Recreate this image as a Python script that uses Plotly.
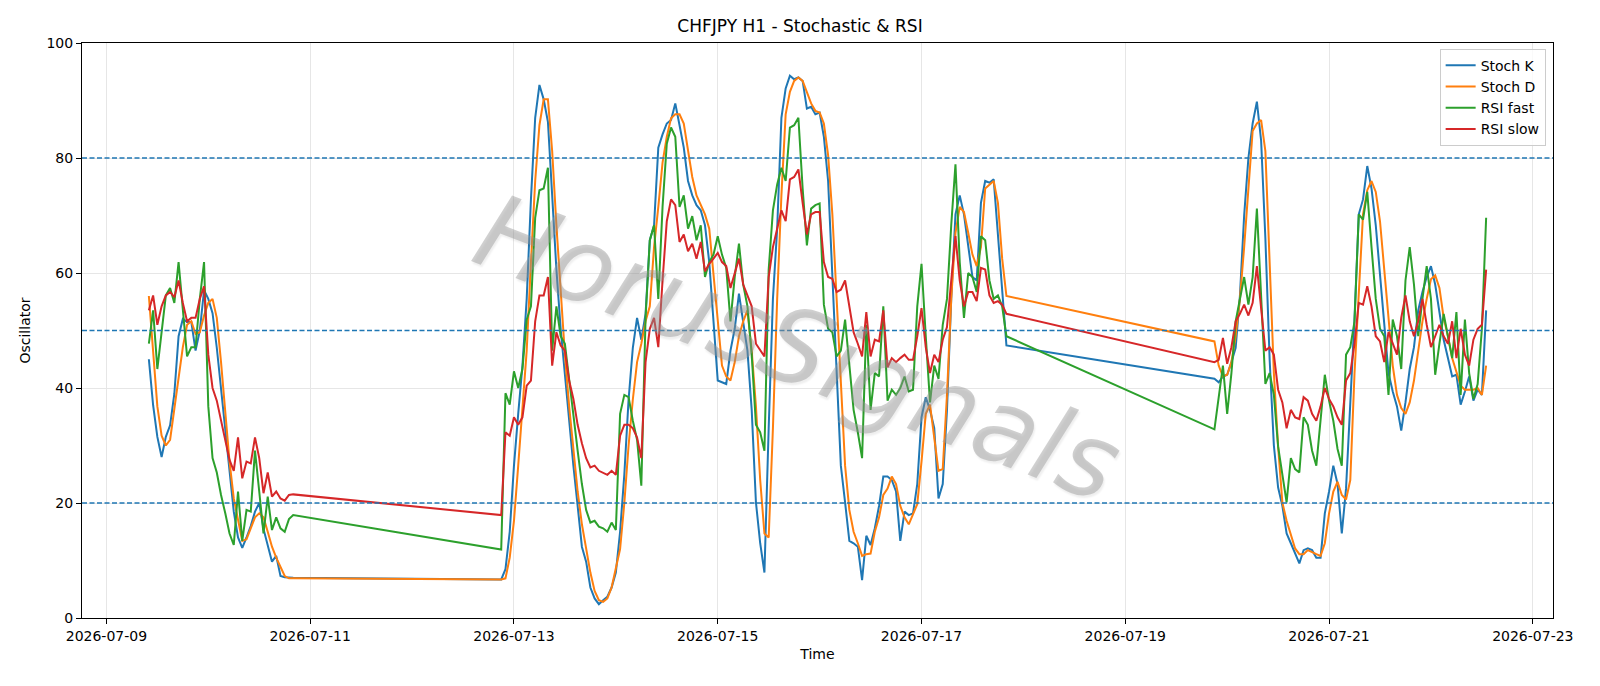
import pandas as pd
import plotly.graph_objects as go

# ---- time axis: three hourly trading segments (weekend gaps between) ----
seg_starts = ["2026-07-09 10:00", "2026-07-12 21:00", "2026-07-19 21:00"]
seg_counts = [35, 120, 65]

# ---- series values ----
stoch_k = [
    45, 37, 31.5, 28, 31.5, 33.5, 39, 49, 52, 51.5, 51.5, 46.5, 50, 57, 55.5, 53, 47, 40, 33, 26,
    18.5, 14, 12.2, 14, 16, 18.5, 20, 15.5, 12.5, 9.8, 10.8, 7.3, 7.1, 7.0, 7.0,
    6.7, 8.5, 15, 26.5, 35.5, 43.9, 55.5, 72.8, 87, 92.7, 90.2, 86.3, 73.5, 60.6, 50.3, 42, 34.3, 26.5, 19.5, 12.4,
    9.8, 5.3, 3.4, 2.4, 3.1, 3.7, 5.3, 7.9, 15, 25, 38, 47, 52.2, 48.4, 52.9, 65.7, 68.3, 81.8, 84.1, 86,
    86.6, 89.5, 85.7, 81.8, 76, 73.5, 71.8, 70.9, 68.3, 61.9, 51.6, 41.3, 41, 40.7, 46.5, 50.3, 56.4, 51.6, 46.5, 36.2,
    20.1, 13, 7.9, 33, 55.5, 67.7, 87, 92.1, 94.3, 93.7, 94, 93.4, 88.6, 88.9, 87.6, 87.9, 83.7, 76, 59.3, 42.6,
    26.5, 20.1, 13.4, 13, 12.4, 6.6, 14.3, 12.7, 15.6, 19.5, 24.6, 24.6, 24, 22, 13.4, 18.5, 17.9, 18.2, 23.3, 34.9,
    38.4, 36.2, 33, 20.8, 23.3, 36.2, 55.5, 70.2, 73.5, 70.2, 65.1, 59.3, 58.7, 72.2, 76, 75.7, 76.3, 67, 56.7, 47.4,
    41.6, 41, 42, 42.3, 44.5, 47, 56, 70, 80, 86, 89.8, 83, 66, 45, 30, 22.7, 19.5, 14.7, 13, 11.1,
    9.5, 11.8, 12.1, 11.8, 10.5, 10.5, 18.2, 22, 26.5, 23.3, 14.7, 22.5, 36.2, 52.2, 70.2, 72.8, 78.6, 74.7, 68.3, 59.3,
    50.3, 42.6, 39.4, 36.8, 32.6, 37.5, 43.3, 47.1, 53.5, 56.7, 59.3, 61.2, 58, 52.9, 48.4, 45.2, 42, 42.3, 37.1, 39.4,
    42, 37.8, 39.7, 38.8, 53.5,
]
stoch_d = [
    56, 45.8, 36.8, 31.7, 30, 31, 36.2, 41.3, 47.1, 51, 51.6, 49.4, 49.7, 52.6, 54.8, 55.5, 52.2, 44.5, 35.5, 27.2,
    20.8, 16.9, 13.4, 13.7, 15.6, 17.5, 18.2, 17.5, 15, 12.4, 10.5, 8.9, 7.3, 6.9, 6.9,
    6.7, 6.9, 10.5, 16.9, 26.5, 36.2, 46.5, 61.9, 76, 85.7, 90.2, 90.2, 81.2, 68.3, 56.1, 45.8, 36.8, 29.1, 22, 16.3,
    11.8, 7.9, 4.7, 3.1, 2.8, 3.4, 5.3, 8.5, 12, 20, 30, 38, 44.5, 47.7, 51.6, 54.2, 64.5, 71.5, 79.2, 83.7,
    86.9, 87.6, 87.6, 86, 81.2, 76.7, 73.5, 71.8, 70.2, 67.7, 60, 51.6, 43.9, 42, 41.3, 44.5, 49, 51.6, 53.5, 46.5,
    36.8, 24, 14.7, 14, 33, 55.5, 73.5, 87.6, 91.5, 93.4, 94, 93.4, 91.5, 89.5, 88.2, 87.9, 86, 80.5, 70.2, 55.5,
    39.4, 26.5, 18.8, 15, 13, 10.8, 11.1, 11.2, 15, 17.5, 21.4, 22.5, 24.6, 23.3, 19.5, 17.5, 16.3, 17.9, 19.8, 27.2,
    35.5, 37.1, 31.7, 25.6, 25.9, 38.8, 55.5, 67, 71.5, 70.6, 67, 63.2, 61.2, 64.5, 74.7, 75.4, 76, 72.2, 62.5, 56,
    48.1, 43.9, 42, 42.3, 44.5, 49, 55.5, 64.5, 74.7, 84.7, 86, 86.6, 81.2, 61.9, 42.6, 29.8, 20.1, 16.9, 14.3, 12.1,
    11.1, 11.1, 11.8, 11.4, 11.1, 10.8, 13, 18.2, 22, 23.7, 21.4, 20.6, 24, 42.6, 56.7, 70.2, 74.4, 76, 74.1, 69,
    60.6, 51.6, 43.9, 38.8, 36.5, 35.5, 37.5, 41.3, 46.5, 51.6, 55.5, 58.9, 59.6, 57.4, 52.2, 49, 45.2, 42.6, 40.4, 39.7,
    39.7, 39.7, 40, 38.8, 43.9,
]
rsi_fast = [
    47.7, 53.5, 43.3, 50.3, 56.1, 57.4, 54.8, 61.9, 52.9, 45.5, 47.1, 47.1, 55.5, 61.9, 36.8, 27.8, 25.3, 21.4, 18.2, 14.7,
    12.7, 22, 13.4, 18.8, 18.5, 29.1, 22, 14.7, 21.1, 15.3, 17.5, 15.6, 15, 17.2, 17.9,
    11.9, 39.1, 37.1, 42.9, 40, 43.3, 51.9, 54.2, 69.6, 74.4, 74.7, 78.3, 46.5, 54.2, 49, 47.7, 41.3, 35.5, 29.1, 23.3,
    18.8, 16.6, 16.9, 15.9, 15.6, 15, 16.6, 15.3, 35.5, 38.8, 38.4, 34.3, 31, 23, 52.2, 65.7, 68.3, 55.5, 71.5, 82.5,
    85.3, 83.7, 71.5, 73.5, 67.7, 69.9, 65.7, 68.3, 59.3, 61.9, 63.2, 66.4, 63.2, 60.9, 51.6, 59.3, 65.1, 58, 54.2, 45.8,
    33.6, 32.3, 29.1, 60.6, 70.9, 75.4, 78.3, 76, 85.3, 85.7, 87, 74.7, 64.8, 71.2, 71.8, 72.1, 54.5, 50.3, 49.7, 45.5,
    46.5, 51.9, 43.9, 36.2, 32.3, 27.8, 51, 36.2, 42.6, 42, 54.2, 37.8, 39.7, 38.8, 40, 42, 39.4, 39.7, 54.2, 61.6,
    49, 37.5, 43.9, 41.6, 51, 55.5, 68.3, 78.9, 61.9, 52.2, 60, 59.3, 56.7, 66.4, 65.7, 58.7, 55.5, 56.1, 54.2, 49,
    32.8, 38.8, 43.9, 35.5, 42.6, 51.6, 55.5, 59.3, 54.5, 59.3, 71.2, 55.5, 40.7, 42.6, 38.8, 29.8, 25.3, 20.1, 27.8, 25.9,
    25.3, 34.9, 33.6, 29.1, 26.5, 34.3, 42.3, 37.8, 34.3, 29.4, 26.5, 45.8, 47.1, 51.6, 70.2, 69.3, 74.1, 64.5, 55.5, 50.3,
    49, 38.8, 51.9, 49, 43.3, 58.7, 64.5, 58, 49, 55.5, 61.2, 55.5, 42.3, 47.7, 52.9, 49, 45.2, 53.2, 38.8, 51.9,
    42.6, 38.1, 40.7, 50.3, 69.6,
]
rsi_slow = [
    53.5, 56.1, 51, 54.2, 56.1, 56.7, 55.8, 58.7, 54.8, 51.6, 52.2, 52.2, 55.5, 57.7, 45.8, 40, 37.8, 34.3, 31, 27.5,
    25.6, 31.4, 24.3, 27.2, 26.9, 31.4, 27.8, 21.7, 25.3, 21.1, 22, 20.8, 20.4, 21.4, 21.5,
    17.9, 32.3, 31.7, 34.9, 33.6, 34.9, 40.4, 41.3, 51.6, 56.1, 56.1, 59.3, 43.9, 49.7, 47.4, 46.5, 41.3, 38.1, 33.6, 30.4,
    27.8, 26.2, 26.5, 25.6, 25.3, 24.9, 25.6, 24.9, 31.7, 33.6, 33.6, 33, 31.4, 27.8, 44.5, 50.3, 52.2, 47.1, 58.7, 69,
    72.8, 71.8, 65.4, 66.7, 63.8, 65.1, 62.5, 65.4, 60.3, 61.6, 62.5, 63.5, 61.9, 61.2, 57.4, 60, 62.5, 58, 56.1, 54.2,
    47.7, 46.5, 45.5, 59.3, 64.5, 67.7, 70.9, 69, 76.3, 76.7, 78, 72.2, 66.7, 70.2, 70.6, 70.6, 61.9, 59.3, 59, 56.7,
    57.1, 58.7, 54.2, 49.7, 47.7, 45.5, 53.2, 45.5, 48.4, 48.1, 53.5, 43.6, 45.2, 44.5, 45.2, 45.8, 44.9, 44.9, 49, 53.9,
    47.1, 42.6, 45.8, 44.5, 48.4, 50.6, 58.7, 66.4, 58.7, 54.2, 56.7, 56.7, 55.1, 60.9, 60.6, 56.1, 54.8, 55.1, 54.5, 52.9,
    44.5, 44.9, 48.7, 44.2, 47.1, 51.6, 52.9, 54.5, 52.6, 54.8, 61.2, 54.2, 46.5, 47.1, 45.8, 39.7, 37.5, 33, 36.2, 34.9,
    34.6, 38.4, 37.8, 35.5, 34.3, 36.8, 40, 38.1, 36.8, 34.9, 33.6, 41.3, 42.6, 47.7, 54.8, 54.5, 57.7, 54.2, 49, 48.1,
    44.5, 49.7, 47.7, 45.8, 52.2, 56.1, 51.6, 49, 51.6, 55.5, 51, 47.1, 49, 51, 49, 47.7, 51.6, 45.2, 50.3, 45.8,
    43.9, 48.4, 50.3, 51, 60.6,
]
levels = [80, 50, 20]
tick_dates = ["2026-07-09", "2026-07-11", "2026-07-13", "2026-07-15", "2026-07-17",
              "2026-07-19", "2026-07-21", "2026-07-23"]

times = []
for s, n in zip(seg_starts, seg_counts):
    times.extend(pd.date_range(s, periods=n, freq="h"))

series = [
    ("Stoch K", stoch_k, "#1f77b4"),
    ("Stoch D", stoch_d, "#ff7f0e"),
    ("RSI fast", rsi_fast, "#2ca02c"),
    ("RSI slow", rsi_slow, "#d62728"),
]

fig = go.Figure()
for name, vals, col in series:
    fig.add_trace(go.Scatter(x=times, y=vals, mode="lines", name=name,
                             line=dict(color=col, width=2)))

for lv in levels:
    fig.add_hline(y=lv, line=dict(color="#1f77b4", width=1.3, dash="5px,2.5px"))

font = "DejaVu Sans"
fig.add_annotation(
    text="HorusSignals", xref="paper", yref="paper", x=0.487, y=0.47,
    showarrow=False, textangle=21,
    font=dict(family="DejaVu Sans ExtraLight, DejaVu Sans", size=104,
              color="rgba(150,150,150,0.45)", style="italic",
              shadow="2px 2px 2px rgba(0,0,0,0.15)"),
)

fig.update_layout(
    width=1600, height=686,
    margin=dict(l=82, r=47, t=43, b=68),
    paper_bgcolor="white", plot_bgcolor="white",
    font=dict(family=font, size=14, color="black"),
    title=dict(text="CHFJPY H1 - Stochastic & RSI", x=0.5, xanchor="center",
               y=1 - 26.5 / 686, yanchor="middle", font=dict(size=17)),
    legend=dict(x=0.995, y=0.99, xanchor="right", yanchor="top",
                bgcolor="rgba(255,255,255,0.8)", bordercolor="#cccccc", borderwidth=1,
                font=dict(size=14), tracegroupgap=0),
    showlegend=True,
)
fig.update_xaxes(
    type="date",
    range=["2026-07-08 18:15", "2026-07-23 04:45"],
    tickvals=tick_dates, ticktext=tick_dates,
    showgrid=True, gridcolor="#e6e6e6", gridwidth=1,
    showline=True, linecolor="black", linewidth=1, mirror=True,
    ticks="outside", ticklen=5, tickcolor="black", tickfont=dict(size=14),
    title=dict(text="Time", standoff=6, font=dict(size=14)), zeroline=False,
)
fig.update_yaxes(
    range=[0, 100], tickvals=[0, 20, 40, 60, 80, 100],
    showgrid=True, gridcolor="#e6e6e6", gridwidth=1,
    showline=True, linecolor="black", linewidth=1, mirror=True,
    ticks="outside", ticklen=5, tickcolor="black", tickfont=dict(size=14),
    title=dict(text="Oscillator", standoff=12, font=dict(size=14)), zeroline=False,
)

fig.write_html("out.html")
